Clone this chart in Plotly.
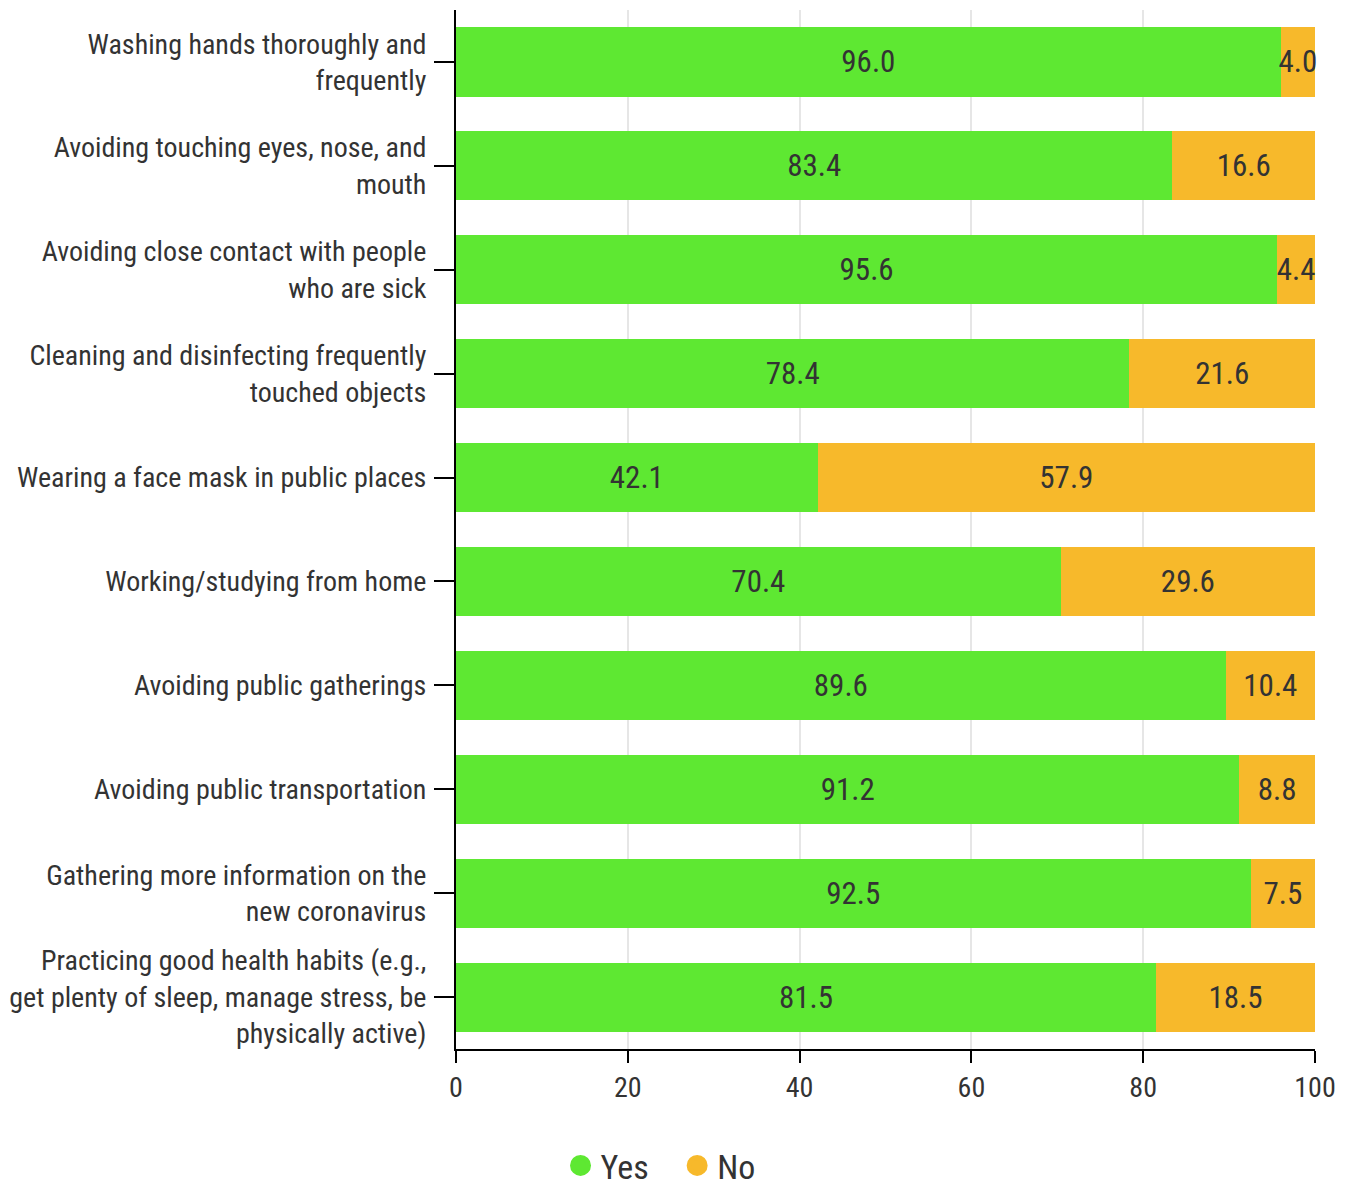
import plotly.graph_objects as go

categories = [
    "Washing hands thoroughly and<br>frequently",
    "Avoiding touching eyes, nose, and<br>mouth",
    "Avoiding close contact with people<br>who are sick",
    "Cleaning and disinfecting frequently<br>touched objects",
    "Wearing a face mask in public places",
    "Working/studying from home",
    "Avoiding public gatherings",
    "Avoiding public transportation",
    "Gathering more information on the<br>new coronavirus",
    "Practicing good health habits (e.g.,<br>get plenty of sleep, manage stress, be<br>physically active)",
]
yes_values = [96.0, 83.4, 95.6, 78.4, 42.1, 70.4, 89.6, 91.2, 92.5, 81.5]
no_values = [4.0, 16.6, 4.4, 21.6, 57.9, 29.6, 10.4, 8.8, 7.5, 18.5]
x_ticks = [0, 20, 40, 60, 80, 100]
series_names = ["Yes", "No"]

GREEN = "#5ee832"
ORANGE = "#f7b92b"
FONT = "Roboto Condensed, Liberation Sans Narrow, Roboto, sans-serif"
TXT = "#333333"

fig = go.Figure()
for name, vals, col in [(series_names[0], yes_values, GREEN), (series_names[1], no_values, ORANGE)]:
    fig.add_trace(go.Bar(
        y=categories, x=vals, orientation="h", name=name,
        marker=dict(color=col, line=dict(width=0)),
        text=[f"{v:.1f}" for v in vals], textposition="inside",
        insidetextanchor="middle", textangle=0,
        textfont=dict(family=FONT, size=31, color=TXT),
        showlegend=False, cliponaxis=False,
    ))
for name, col in [(series_names[0], GREEN), (series_names[1], ORANGE)]:
    fig.add_trace(go.Scatter(
        x=[None], y=[None], mode="markers",
        name=name + "\u00a0\u00a0\u00a0" if name == "Yes" else name,
        marker=dict(color=col, size=18, symbol="circle", line=dict(color=col, width=5)),
        showlegend=True,
    ))

fig.update_layout(
    barmode="stack", bargap=0.335,
    width=1348, height=1186,
    margin=dict(l=456, r=33, t=10, b=137),
    paper_bgcolor="white", plot_bgcolor="white",
    font=dict(family=FONT, color=TXT),
    uniformtext=dict(minsize=31, mode="show"),
    legend=dict(orientation="h", xref="container", yref="container",
                x=0.49, xanchor="center", y=0.017, yanchor="middle",
                traceorder="normal",
                font=dict(family=FONT, size=34, color=TXT),
                itemsizing="trace", tracegroupgap=0),
)
fig.update_xaxes(
    range=[0, 100], tickvals=x_ticks, showgrid=True, gridcolor="#e6e6e6", gridwidth=2,
    showline=True, linecolor="#000000", linewidth=2,
    ticks="outside", ticklen=12, tickwidth=2, tickcolor="#000000",
    tickfont=dict(family=FONT, size=28, color=TXT), ticklabelstandoff=0, zeroline=False,
)
fig.update_yaxes(
    autorange="reversed", showline=True, linecolor="#000000", linewidth=2,
    ticks="outside", ticklen=20, tickwidth=2, tickcolor="#000000",
    tickfont=dict(family=FONT, size=28, color=TXT), ticklabelstandoff=2,
    showgrid=False,
)
fig.write_html("out.html")
